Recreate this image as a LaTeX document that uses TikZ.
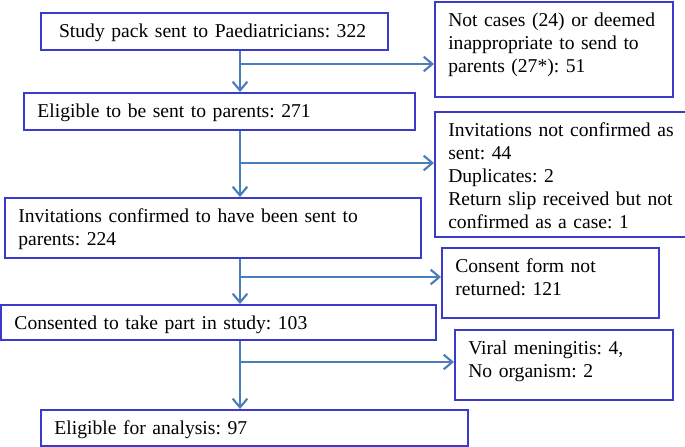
\documentclass[tikz,border=0pt]{standalone}
\usepackage{fontspec}
\setmainfont{Liberation Serif}
\usetikzlibrary{arrows.meta}
\definecolor{boxblue}{RGB}{58,58,204}
\definecolor{flowblue}{RGB}{74,126,187}
\frenchspacing
\begin{document}
\begin{tikzpicture}[
        x=0.75pt, y=-0.75pt,
        rect/.style={rectangle, draw=boxblue, line width=1.4pt, anchor=north west, align=left,
            inner xsep=10pt, inner ysep=6.4pt, text height=12pt,
            font=\fontsize{14.7}{17.3}\selectfont},
        flow/.style={draw=flowblue, line width=1.6pt, -{Straight Barb[length=6.5pt, width=11pt]}}
    ]
    \useasboundingbox (0,0) rectangle (685,446);
    % main column
    \node[rect, inner xsep=13.5pt, minimum width=260.25pt, text width=233pt, text depth=2.95pt] (study) at (40,12)
        {Study pack sent to Paediatricians: 322};
    \node[rect, minimum width=293.25pt, text width=273pt, text depth=2.95pt] (eligible) at (23,92)
        {Eligible to be sent to parents: 271};
    \node[rect, minimum width=312pt, text width=292pt, text depth=20.2pt] (invited) at (4,197)
        {Invitations confirmed to have been sent to\\parents: 224};
    \node[rect, minimum width=326.25pt, text width=306pt, text depth=1.45pt] (consented) at (0,304)
        {Consented to take part in study: 103};
    \node[rect, minimum width=320.25pt, text width=300pt, text depth=2.2pt] (analysis) at (40,409)
        {Eligible for analysis: 97};
    % exclusions
    \node[rect, minimum width=178.5pt, text width=158.5pt, text depth=46.45pt] (notcases) at (434,1)
        {Not cases (24) or deemed\\inappropriate to send to\\parents (27*): 51};
    \node[rect, minimum width=188.25pt, text width=170pt, text depth=68.95pt] (notsent) at (434,111)
        {Invitations not confirmed as\\sent: 44\\Duplicates: 2\\Return slip received but not\\confirmed as a case: 1};
    \node[rect, minimum width=162.75pt, text width=142.75pt, text depth=27.7pt] (noconsent) at (441,247)
        {Consent form not\\returned: 121};
    \node[rect, minimum width=163.5pt, text width=143.5pt, text depth=27.7pt] (viral) at (454,329)
        {Viral meningitis: 4,\\No organism: 2};
    % connectors
    \coordinate (spine) at (240,0);
    \coordinate (j1) at (240,64);
    \coordinate (j2) at (240,163);
    \coordinate (j3) at (240,277);
    \coordinate (j4) at (241,362);
    \draw[flow] (study.south -| spine) -- (eligible.north -| spine);
    \draw[flow] (eligible.south -| spine) -- (invited.north -| spine);
    \draw[flow] (invited.south -| spine) -- (consented.north -| spine);
    \draw[flow] (consented.south -| spine) -- (analysis.north -| spine);
    \draw[flow] (j1) -- (j1 -| notcases.west);
    \draw[flow] (j2) -- (j2 -| notsent.west);
    \draw[flow] (j3) -- (j3 -| noconsent.west);
    \draw[flow] (j4) -- (j4 -| viral.west);
\end{tikzpicture}
\end{document}
